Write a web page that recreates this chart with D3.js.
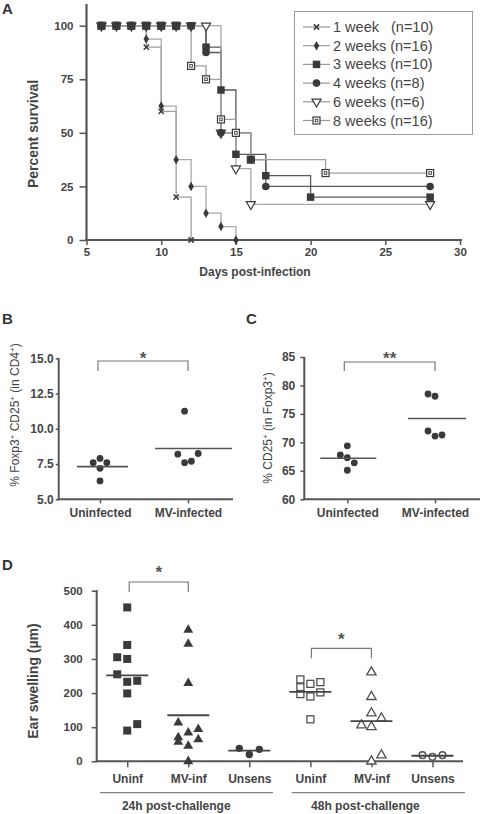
<!DOCTYPE html>
<html><head><meta charset="utf-8">
<script src="https://cdn.jsdelivr.net/npm/d3@7"></script>
<style>
body{margin:0;background:#fff}
svg{display:block}
text{font-family:"Liberation Sans",Arial,Helvetica,sans-serif}
</style>
</head><body>
<svg id="c" width="481" height="814"></svg>
<script>
// ---------------- Panel A data (Kaplan–Meier survival) ----------------
const survSeries = ["1 week", "2 weeks", "3 weeks", "4 weeks", "6 weeks", "8 weeks"];
const survN = ["(n=10)", "(n=16)", "(n=10)", "(n=8)", "(n=6)", "(n=16)"];
const days1w = [6, 7, 8, 9, 10, 11, 12];
const surv1w = [100, 100, 100, 90, 60, 20, 0];
const days2w = [6, 7, 8, 9, 10, 11, 12, 13, 14, 15];
const surv2w = [100, 100, 100, 93.75, 62.5, 37.5, 25, 12.5, 6.25, 0];
const days3w = [6, 7, 8, 9, 10, 11, 12, 13, 14, 15, 17, 20, 28];
const surv3w = [100, 100, 100, 100, 100, 100, 100, 90, 70, 40, 30, 20, 20];
const days4w = [6, 7, 8, 9, 10, 11, 12, 13, 14, 16, 17, 28];
const surv4w = [100, 100, 100, 100, 100, 100, 100, 87.5, 50, 37.5, 25, 25];
const days6w = [6, 7, 8, 9, 10, 11, 12, 13, 14, 15, 16, 28];
const surv6w = [100, 100, 100, 100, 100, 100, 100, 100, 50, 33.33, 16.67, 16.67];
const days8w = [6, 7, 8, 9, 10, 11, 12, 13, 14, 15, 16, 21, 28];
const surv8w = [100, 100, 100, 100, 100, 100, 81.25, 75, 56.25, 50, 37.5, 31.25, 31.25];
const survXTicks = [5, 10, 15, 20, 25, 30];
const survYTicks = [0, 25, 50, 75, 100];

// ---------------- Panel B data ----------------
const bCats = ["Uninfected", "MV-infected"];
const bUninf = [7.6, 7.9, 7.6, 7.2, 6.3];
const bUninfCol = [-1, 0, 1, 0, 0];
const bMV = [11.25, 8.2, 8.25, 7.6, 7.7];
const bMVCol = [-0.5, -1.5, 1.5, -0.5, 0.5];
const bTicks = [5.0, 7.5, 10.0, 12.5, 15.0];

// ---------------- Panel C data ----------------
const cCats = ["Uninfected", "MV-infected"];
const cUninf = [69.4, 67.8, 67.3, 66.4, 65.1];
const cUninfCol = [0, -1, 0, 1, 0];
const cMV = [78.5, 78.1, 72.0, 71.1, 71.3];
const cMVCol = [-1, 0, -1, 0, 1];
const cTicks = [60, 65, 70, 75, 80, 85];

// ---------------- Panel D data ----------------
const dCats = ["Uninf", "MV-inf", "Unsens", "Uninf", "MV-inf", "Unsens"];
const dGroups = ["24h post-challenge", "48h post-challenge"];
const dUninf24 = [451, 341, 305, 300, 255, 233, 236, 199, 109, 90];
const dUninf24Col = [0, 0, -1, 0, -1, 0, 1, 0, 1, 0];
const dMV24 = [385, 344, 229, 113, 94, 84, 70, 57, 64, 45, 0];
const dMV24Col = [0, 0, 0, -1, 1, 0, -1, -1, 1, 0, 0];
const dUnsens24 = [38, 20, 35];
const dUnsens24Col = [-1, 0, 1];
const dUninf48 = [240, 217, 227, 232, 197, 190, 202, 123];
const dUninf48Col = [-1, -1, 0, 1, -1, 0, 1, 0];
const dMV48 = [261, 189, 141, 126, 106, 101, 18, 0];
const dMV48Col = [0, 0, 0, 1, -1, 0, 1, 0];
const dUnsens48 = [18, 13, 18];
const dUnsens48Col = [-1, 0, 1];
const dTicks = [0, 100, 200, 300, 400, 500];

// ---------------- drawing ----------------
const svg = d3.select("#c");
const TXT = "#444", AX = "#555", MK = "#3a3a3a";
const FONT = '"Liberation Sans",Arial,Helvetica,sans-serif';

function marker(g, type, x, y) {
  const s = g.append("g").attr("transform", `translate(${x},${y})`);
  switch (type) {
    case "x":
      s.append("path").attr("d", "M-2.6,-2.6L2.6,2.6M-2.6,2.6L2.6,-2.6")
        .attr("stroke", MK).attr("stroke-width", 1.5).attr("fill", "none"); break;
    case "diamond":
      s.append("path").attr("d", d3.symbol(d3.symbolDiamond, 26)()).attr("fill", MK); break;
    case "square":
      s.append("path").attr("d", d3.symbol(d3.symbolSquare, 56)()).attr("fill", MK); break;
    case "circle":
      s.append("circle").attr("r", 3.8).attr("fill", MK); break;
    case "tridown":
      s.append("path").attr("d", d3.symbol(d3.symbolTriangle, 36)())
        .attr("transform", "rotate(180)").attr("fill", "#fff").attr("stroke", MK).attr("stroke-width", 1.2); break;
    case "dsquare":
      s.append("rect").attr("x", -3.5).attr("y", -3.5).attr("width", 7).attr("height", 7)
        .attr("fill", "#fff").attr("stroke", MK).attr("stroke-width", 1.2);
      s.append("rect").attr("x", -1.3).attr("y", -1.3).attr("width", 2.6).attr("height", 2.6)
        .attr("fill", "none").attr("stroke", MK).attr("stroke-width", 0.9); break;
    // panel D markers
    case "fsq":
      s.append("path").attr("d", d3.symbol(d3.symbolSquare, 64)()).attr("fill", MK); break;
    case "ftri":
      s.append("path").attr("d", d3.symbol(d3.symbolTriangle, 42)()).attr("fill", MK); break;
    case "fcir":
      s.append("circle").attr("r", 3.7).attr("fill", MK); break;
    case "osq":
      s.append("rect").attr("x", -3.5).attr("y", -3.5).attr("width", 7).attr("height", 7)
        .attr("fill", "#fff").attr("stroke", "#505050").attr("stroke-width", 1.3); break;
    case "otri":
      s.append("path").attr("d", d3.symbol(d3.symbolTriangle, 38)())
        .attr("fill", "#fff").attr("stroke", "#505050").attr("stroke-width", 1.3); break;
    case "ocir":
      s.append("circle").attr("r", 3.4).attr("fill", "#fff").attr("stroke", "#505050").attr("stroke-width", 1.3); break;
  }
}

function panelLetter(t, x, y) {
  svg.append("text").attr("x", x).attr("y", y).text(t)
    .attr("font-size", 15).attr("font-weight", "bold").attr("fill", "#333");
}
function styleAxis(g, fs, weight) {
  g.select(".domain").remove();
  g.selectAll(".tick line").attr("stroke", AX).attr("stroke-width", 1.5);
  g.selectAll(".tick text").attr("fill", TXT).attr("font-size", fs)
    .attr("font-weight", weight).attr("font-family", FONT);
}
function axisLine(x1, y1, x2, y2, w) {
  svg.append("line").attr("x1", x1).attr("y1", y1).attr("x2", x2).attr("y2", y2)
    .attr("stroke", AX).attr("stroke-width", w || 2);
}

// ===== Panel A =====
panelLetter("A", 2, 14);
const xA = d3.scaleLinear().domain([5, 30]).range([86.5, 460]);
const yA = d3.scaleLinear().domain([0, 100]).range([240, 25.7]);
const gAy = svg.append("g").attr("transform", "translate(86.5,0)")
  .call(d3.axisLeft(yA).tickValues(survYTicks).tickSize(7).tickPadding(6));
styleAxis(gAy, 11.5, "bold");
const gAx = svg.append("g").attr("transform", "translate(0,240)")
  .call(d3.axisBottom(xA).tickValues(survXTicks).tickSize(5).tickPadding(3));
styleAxis(gAx, 11.5, "bold");
axisLine(86.5, 240, 86.5, 4, 2.2);
axisLine(85.5, 240, 462, 240, 2.2);
svg.append("text").attr("transform", "translate(38,134) rotate(-90)").attr("text-anchor", "middle")
  .attr("font-size", 14).attr("font-weight", "bold").attr("fill", TXT).text("Percent survival");
svg.append("text").attr("x", 255).attr("y", 276).attr("text-anchor", "middle")
  .attr("font-size", 12).attr("font-weight", "bold").attr("fill", TXT).text("Days post-infection");

const survData = [
  { days: days1w, vals: surv1w, mk: "x", line: "#a0a0a0" },
  { days: days2w, vals: surv2w, mk: "diamond", line: "#a8a8a8" },
  { days: days3w, vals: surv3w, mk: "square", line: "#5a5a5a" },
  { days: days4w, vals: surv4w, mk: "circle", line: "#5a5a5a" },
  { days: days6w, vals: surv6w, mk: "tridown", line: "#a8a8a8" },
  { days: days8w, vals: surv8w, mk: "dsquare", line: "#a0a0a0" }
];
const stepLine = d3.line().x(d => xA(d[0])).y(d => yA(d[1])).curve(d3.curveStepAfter);
const gA = svg.append("g");
survData.forEach(s => {
  gA.append("path").attr("d", stepLine(s.days.map((d, i) => [d, s.vals[i]])))
    .attr("fill", "none").attr("stroke", s.line).attr("stroke-width", 1.3);
});
[4, 5, 0, 1, 3, 2].forEach(k => {
  const s = survData[k];
  s.days.forEach((d, i) => marker(gA, s.mk, xA(d), yA(s.vals[i])));
});
// legend
svg.append("rect").attr("x", 294.5).attr("y", 11.5).attr("width", 178).attr("height", 123)
  .attr("fill", "#fff").attr("stroke", "#999").attr("stroke-width", 1);
survSeries.forEach((name, i) => {
  const y = 27 + i * 18.7;
  svg.append("line").attr("x1", 303).attr("x2", 330).attr("y1", y).attr("y2", y)
    .attr("stroke", "#999").attr("stroke-width", 1.2);
  marker(svg, survData[i].mk, 316.5, y);
  const t = svg.append("text").attr("x", 333).attr("y", y + 5).attr("font-size", 14.5)
    .attr("fill", TXT);
  if (i === 0) {
    t.text(name);
    svg.append("text").attr("x", 391).attr("y", y + 5).attr("font-size", 14.5).attr("fill", TXT).text(survN[i]);
  } else {
    t.text(name + " " + survN[i]);
  }
});

// ===== Panel B & C helper =====
function dotPanel(opts) {
  const { cats, y, ticks, fmt, groups, axisX, axisRight, yTop, yBot, tickSize, tickPad, jit, half } = opts;
  const x = d3.scalePoint().domain(cats).range(opts.catRange);
  const gy = svg.append("g").attr("transform", `translate(${axisX},0)`)
    .call(d3.axisLeft(y).tickValues(ticks).tickFormat(fmt).tickSize(tickSize).tickPadding(tickPad));
  styleAxis(gy, 12, "bold");
  const gx = svg.append("g").attr("transform", `translate(0,${yBot})`)
    .call(d3.axisBottom(x).tickSize(4).tickPadding(4));
  styleAxis(gx, 12, "bold");
  gx.selectAll(".tick text").attr("dy", "0.85em");
  axisLine(axisX, yBot, axisX, yTop, 2);
  axisLine(axisX - 1, yBot, axisRight, yBot, 2);
  groups.forEach((gr, k) => {
    const cx = x(cats[k]);
    gr.vals.forEach((v, i) => {
      svg.append("circle").attr("cx", cx + gr.col[i] * jit).attr("cy", y(v)).attr("r", 3.4).attr("fill", MK);
    });
    const m = d3.mean(gr.vals);
    svg.append("line").attr("x1", cx + half[k][0]).attr("x2", cx + half[k][1])
      .attr("y1", y(m)).attr("y2", y(m)).attr("stroke", "#555").attr("stroke-width", 1.6);
  });
  return x;
}
function bracket(x1, x2, yTop, yLeg, star, sy) {
  svg.append("path").attr("d", `M${x1},${yLeg}V${yTop}H${x2}V${yLeg}`)
    .attr("fill", "none").attr("stroke", "#777").attr("stroke-width", 1.2);
  svg.append("text").attr("x", (x1 + x2) / 2).attr("y", sy).attr("text-anchor", "middle")
    .attr("font-size", 17).attr("font-weight", "bold").attr("fill", "#555").text(star);
}

// ===== Panel B =====
panelLetter("B", 2, 324);
const yB = d3.scaleLinear().domain([5, 15]).range([499.3, 358.3]);
const xB = dotPanel({
  cats: bCats, y: yB, ticks: bTicks, fmt: d3.format(".1f"), axisX: 58.7, axisRight: 233,
  yTop: 358, yBot: 499.3, tickSize: 3, tickPad: 2, catRange: [100, 188], jit: 6.8,
  half: [[-23, 28], [-33, 44]],
  groups: [{ vals: bUninf, col: bUninfCol }, { vals: bMV, col: bMVCol }]
});
bracket(xB(bCats[0]) - 2, xB(bCats[1]), 361, 371, "*", 364);
const tB = svg.append("text").attr("transform", "translate(19,415) rotate(-90)").attr("text-anchor", "middle")
  .attr("font-size", 12).attr("fill", TXT);
tB.append("tspan").text("% Foxp3");
tB.append("tspan").attr("font-size", 8).attr("dy", -4).text("+");
tB.append("tspan").attr("dy", 4).text(" CD25");
tB.append("tspan").attr("font-size", 8).attr("dy", -4).text("+");
tB.append("tspan").attr("dy", 4).text(" (in CD4");
tB.append("tspan").attr("font-size", 8).attr("dy", -4).text("+");
tB.append("tspan").attr("dy", 4).text(")");

// ===== Panel C =====
panelLetter("C", 246, 324);
const yC = d3.scaleLinear().domain([60, 85]).range([499.3, 357]);
const xC = dotPanel({
  cats: cCats, y: yC, ticks: cTicks, fmt: d3.format("d"), axisX: 304.3, axisRight: 480,
  yTop: 357, yBot: 499.3, tickSize: 4, tickPad: 5, catRange: [347.3, 435], jit: 7,
  half: [[-27, 29], [-27, 31]],
  groups: [{ vals: cUninf, col: cUninfCol }, { vals: cMV, col: cMVCol }]
});
bracket(xC(cCats[0]) - 3, xC(cCats[1]), 362, 371, "**", 364);
const tC = svg.append("text").attr("transform", "translate(272,428) rotate(-90)").attr("text-anchor", "middle")
  .attr("font-size", 12).attr("fill", TXT);
tC.append("tspan").text("% CD25");
tC.append("tspan").attr("font-size", 8).attr("dy", -4).text("+");
tC.append("tspan").attr("dy", 4).text(" (in Foxp3");
tC.append("tspan").attr("font-size", 8).attr("dy", -4).text("+");
tC.append("tspan").attr("dy", 4).text(")");

// ===== Panel D =====
panelLetter("D", 2, 570);
const xD = d3.scalePoint().domain(d3.range(dCats.length)).range([96.7, 463]).padding(0.5);
const yD = d3.scaleLinear().domain([0, 500]).range([761.3, 590.7]);
const gDy = svg.append("g").attr("transform", "translate(96.7,0)")
  .call(d3.axisLeft(yD).tickValues(dTicks).tickSize(5).tickPadding(9));
styleAxis(gDy, 11.5, "bold");
const gDx = svg.append("g").attr("transform", "translate(0,761.3)")
  .call(d3.axisBottom(xD).tickFormat(i => dCats[i]).tickSize(6).tickPadding(6));
styleAxis(gDx, 12, "bold");
gDx.selectAll(".tick text").attr("dy", "0.85em");
axisLine(96.7, 761.3, 96.7, 590, 2);
axisLine(95.7, 761.3, 463, 761.3, 2);
svg.append("text").attr("transform", "translate(38,681) rotate(-90)").attr("text-anchor", "middle")
  .attr("font-size", 14).attr("font-weight", "bold").attr("fill", TXT).text("Ear swelling (µm)");

const dData = [
  { vals: dUninf24, col: dUninf24Col, mk: "fsq" },
  { vals: dMV24, col: dMV24Col, mk: "ftri" },
  { vals: dUnsens24, col: dUnsens24Col, mk: "fcir" },
  { vals: dUninf48, col: dUninf48Col, mk: "osq" },
  { vals: dMV48, col: dMV48Col, mk: "otri" },
  { vals: dUnsens48, col: dUnsens48Col, mk: "ocir" }
];
const gD = svg.append("g");
dData.forEach((gr, k) => {
  const cx = xD(k);
  gr.vals.forEach((v, i) => marker(gD, gr.mk, cx + gr.col[i] * 10, yD(v)));
  const m = d3.mean(gr.vals);
  gD.append("line").attr("x1", cx - 21).attr("x2", cx + 21).attr("y1", yD(m)).attr("y2", yD(m))
    .attr("stroke", "#444").attr("stroke-width", 1.8);
});
// group lines & labels
dGroups.forEach((name, j) => {
  const xs = j === 0 ? [100, 273] : [291.7, 465];
  svg.append("line").attr("x1", xs[0]).attr("x2", xs[1]).attr("y1", 792.7).attr("y2", 792.7)
    .attr("stroke", "#666").attr("stroke-width", 1);
  svg.append("text").attr("x", (xD(j * 3) + xD(j * 3 + 2)) / 2 - 12 + j * 6).attr("y", 810).attr("text-anchor", "middle")
    .attr("font-size", 12).attr("font-weight", "bold").attr("fill", TXT).text(name);
});
bracket(xD(0) + 2, xD(1), 582, 592, "*", 578);
bracket(xD(3) + 1, xD(4), 648.3, 658.3, "*", 644.5);
</script>
</body></html>
